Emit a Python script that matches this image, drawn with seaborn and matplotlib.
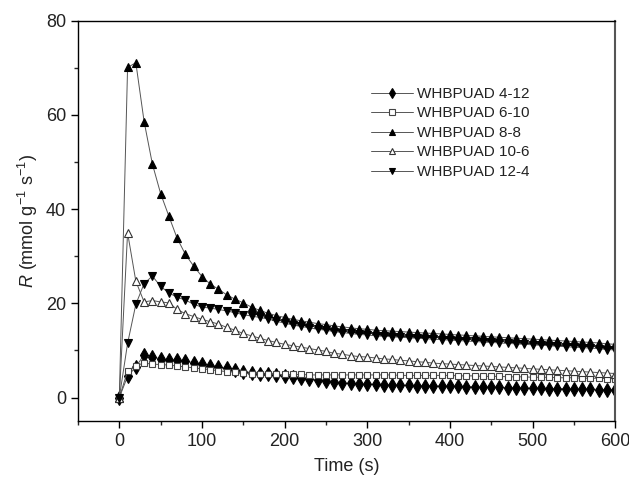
import matplotlib
matplotlib.use("Agg")
import matplotlib.pyplot as plt
from matplotlib.ticker import MultipleLocator
import seaborn as sns
import pandas as pd

time_s = list(range(0, 601, 10))

whbpuad_4_12 = [0, 4.5, 6.5, 9.1, 8.6, 8.2, 8.0, 7.9, 7.7, 7.4,
                7.1, 6.8, 6.5, 6.2, 5.8, 5.5, 5.3, 5.1, 4.9, 4.7,
                4.5, 4.3, 4.1, 3.9, 3.7, 3.5, 3.2, 3.1, 3.0, 2.9,
                2.8, 2.8, 2.7, 2.7, 2.6, 2.6, 2.5, 2.5, 2.5, 2.4,
                2.4, 2.4, 2.3, 2.3, 2.2, 2.2, 2.2, 2.1, 2.1, 2.0,
                2.0, 2.0, 1.9, 1.9, 1.9, 1.8, 1.8, 1.8, 1.7, 1.7, 1.6]

whbpuad_6_10 = [0, 5.6, 6.8, 7.3, 7.1, 7.0, 6.9, 6.7, 6.5, 6.3,
                6.1, 5.9, 5.7, 5.5, 5.4, 5.2, 5.1, 5.0, 5.0, 4.9,
                4.9, 4.9, 4.9, 4.8, 4.8, 4.8, 4.8, 4.8, 4.8, 4.8,
                4.8, 4.8, 4.8, 4.8, 4.7, 4.7, 4.7, 4.7, 4.7, 4.7,
                4.7, 4.6, 4.6, 4.6, 4.5, 4.5, 4.5, 4.4, 4.4, 4.4,
                4.3, 4.3, 4.3, 4.2, 4.2, 4.2, 4.1, 4.1, 4.1, 4.0, 4.0]

whbpuad_8_8 = [0, 70.1, 71.1, 58.6, 49.6, 43.3, 38.5, 33.8, 30.4, 27.9,
               25.7, 24.1, 23.0, 21.8, 20.9, 20.1, 19.2, 18.5, 17.9, 17.4,
               17.0, 16.6, 16.3, 16.0, 15.7, 15.5, 15.2, 15.0, 14.8, 14.6,
               14.5, 14.3, 14.2, 14.1, 14.0, 13.9, 13.8, 13.7, 13.6, 13.5,
               13.4, 13.3, 13.2, 13.1, 13.0, 12.9, 12.8, 12.7, 12.6, 12.5,
               12.4, 12.3, 12.2, 12.1, 12.0, 11.9, 11.8, 11.7, 11.6, 11.4, 11.3]

whbpuad_10_6 = [0, 35.0, 24.7, 20.3, 20.6, 20.3, 20.1, 18.7, 17.8, 17.2,
                16.6, 16.1, 15.6, 14.9, 14.3, 13.6, 13.1, 12.6, 12.1, 11.7,
                11.3, 11.0, 10.7, 10.4, 10.1, 9.8, 9.4, 9.2, 8.9, 8.7,
                8.6, 8.4, 8.2, 8.1, 7.9, 7.8, 7.6, 7.5, 7.3, 7.2,
                7.1, 7.0, 6.9, 6.8, 6.7, 6.6, 6.5, 6.4, 6.3, 6.2,
                6.1, 6.0, 5.9, 5.8, 5.7, 5.6, 5.5, 5.4, 5.3, 5.2, 5.1]

whbpuad_12_4 = [0, 11.5, 19.8, 24.2, 25.8, 23.6, 22.2, 21.3, 20.7, 19.8,
                19.2, 19.0, 18.7, 18.4, 18.0, 17.6, 17.3, 17.0, 16.7, 16.2,
                15.8, 15.4, 15.1, 14.8, 14.5, 14.3, 14.0, 13.8, 13.6, 13.4,
                13.3, 13.1, 13.0, 12.9, 12.8, 12.7, 12.6, 12.5, 12.4, 12.3,
                12.2, 12.1, 12.0, 11.9, 11.8, 11.7, 11.6, 11.5, 11.4, 11.3,
                11.2, 11.1, 11.0, 10.9, 10.8, 10.7, 10.6, 10.5, 10.4, 10.2, 10.1]

series_names = ["WHBPUAD 4-12", "WHBPUAD 6-10", "WHBPUAD 8-8",
                "WHBPUAD 10-6", "WHBPUAD 12-4"]
series_values = [whbpuad_4_12, whbpuad_6_10, whbpuad_8_8,
                 whbpuad_10_6, whbpuad_12_4]

styles = [
    dict(marker="d", ms=7, mfc="black", mec="black"),
    dict(marker="s", ms=4.6, mfc="white", mec="#444444"),
    dict(marker="^", ms=5.6, mfc="black", mec="black"),
    dict(marker="^", ms=5.6, mfc="white", mec="#333333"),
    dict(marker="v", ms=5.6, mfc="black", mec="black"),
]

sns.set_style("ticks")
plt.rcParams["font.family"] = ["Liberation Sans", "DejaVu Sans"]
plt.rcParams["mathtext.fontset"] = "custom"
plt.rcParams["mathtext.rm"] = "Liberation Sans"
plt.rcParams["mathtext.it"] = "Liberation Sans:italic"

fig = plt.figure(figsize=(6.29, 4.84), dpi=100)
ax = fig.add_axes([0.124, 0.130, 0.854, 0.827])

for name, vals, st in zip(series_names, series_values, styles):
    df = pd.DataFrame({"t": time_s, "R": vals})
    sns.lineplot(data=df, x="t", y="R", ax=ax, label=name, color="#555555",
                 linewidth=0.7, marker=st["marker"], markersize=st["ms"],
                 markerfacecolor=st["mfc"], markeredgecolor=st["mec"],
                 markeredgewidth=0.8)

ax.set_xlim(-50, 600)
ax.set_ylim(-5, 80)
ax.xaxis.set_major_locator(MultipleLocator(100))
ax.xaxis.set_minor_locator(MultipleLocator(50))
ax.yaxis.set_major_locator(MultipleLocator(20))
ax.yaxis.set_minor_locator(MultipleLocator(10))
ax.tick_params(axis="both", which="major", direction="out", length=5,
               width=1, labelsize=13, colors="black", labelcolor="#222222")
ax.tick_params(axis="both", which="minor", direction="out", length=3, width=1)
for sp in ax.spines.values():
    sp.set_visible(True)
    sp.set_color("black")
    sp.set_linewidth(1)
ax.spines["right"].set_color("#555555")
ax.spines["right"].set_linewidth(1.5)

ax.set_xlabel("Time (s)", fontsize=13, color="#222222", labelpad=6)
ax.set_ylabel(r"$\it{R}$ (mmol g$^{-1}$ s$^{-1}$)", fontsize=13,
              color="#222222", labelpad=4)

leg = ax.legend(loc="upper left", bbox_to_anchor=(0.535, 0.85), frameon=False,
                fontsize=11, labelspacing=0.36, handlelength=2.7,
                handletextpad=0.3, borderaxespad=0, markerscale=0.8)
for txt in leg.get_texts():
    txt.set_color("#222222")

fig.savefig("out.png", dpi=100)
